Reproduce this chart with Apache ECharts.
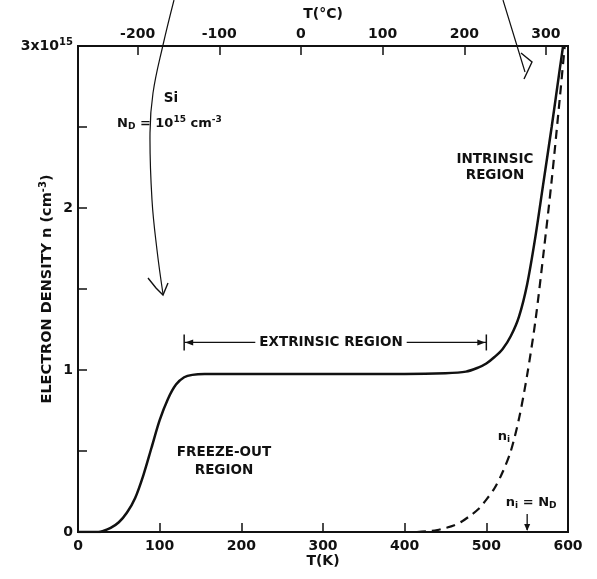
<!DOCTYPE html>
<html><head><meta charset="utf-8">
<script src="https://cdn.jsdelivr.net/npm/echarts@6/dist/echarts.min.js"></script>
<style>html,body{margin:0;padding:0;background:#fff}#c{width:597px;height:579px}</style>
</head><body><div id="c"></div>
<script>
// Electron density n (units of 1e15 cm^-3) vs temperature T (K)
const nTemps  = [0, 25, 30, 40, 50, 60, 70, 80, 90, 100, 110, 120, 130, 140, 155, 200, 300, 400, 450, 475, 490, 500, 510, 520, 530, 540, 550, 560, 570, 580, 590, 594];
const nValues = [0, 0, 0.005, 0.025, 0.06, 0.12, 0.21, 0.35, 0.52, 0.69, 0.82, 0.91, 0.955, 0.97, 0.975, 0.975, 0.975, 0.975, 0.98, 0.99, 1.015, 1.04, 1.08, 1.13, 1.21, 1.33, 1.53, 1.82, 2.16, 2.5, 2.86, 3.0];
// Intrinsic carrier density n_i
const niTemps  = [415, 430, 440, 450, 460, 470, 480, 490, 500, 510, 520, 530, 540, 550, 560, 570, 580, 590, 596];
const niValues = [0, 0.005, 0.012, 0.025, 0.04, 0.065, 0.1, 0.14, 0.2, 0.27, 0.37, 0.5, 0.7, 0.97, 1.3, 1.72, 2.17, 2.68, 3.0];
// Tick labels
const kelvinTicks = [0, 100, 200, 300, 400, 500, 600];
const celsiusTicks = [-200, -100, 0, 100, 200, 300];
const densityTicks = [0, 1, 2, 3];
const crossoverK = 550;           // n_i = N_D
const extrinsicRange = [130, 500]; // K
const extrinsicLevel = 1.17;

const FONT = 'DejaVu Sans';
const W = 'bold';
const INK = '#111';
const chart = echarts.init(document.getElementById('c'), null, {renderer: 'canvas'});

const celsiusInK = celsiusTicks.map(c => c + 273);

const option = {
  backgroundColor: '#fff',
  animation: false,
  grid: {left: 78, right: 29, top: 46, bottom: 47, show: true, borderColor: INK, borderWidth: 2, containLabel: false, outerBoundsMode: 'none'},
  xAxis: [{
    type: 'value', min: 0, max: 600, interval: 100, position: 'bottom',
    name: 'T(K)', nameLocation: 'middle', nameGap: 22, nameMoveOverlap: false,
    nameTextStyle: {fontFamily: FONT, fontWeight: W, fontSize: 14, color: INK},
    axisLine: {show: true, lineStyle: {color: INK, width: 2}},
    axisTick: {show: true, inside: true, length: 9, lineStyle: {color: INK, width: 1.5}},
    axisLabel: {fontFamily: FONT, fontWeight: W, fontSize: 14, color: INK, margin: 7,
      formatter: v => kelvinTicks.includes(v) ? String(v) : ''},
    splitLine: {show: false}
  }, {
    type: 'value', min: 0, max: 600, position: 'top',
    name: 'T(°C)', nameLocation: 'middle', nameGap: 25, nameMoveOverlap: false,
    nameTextStyle: {fontFamily: FONT, fontWeight: W, fontSize: 14, color: INK},
    axisLine: {show: true, lineStyle: {color: INK, width: 2}},
    axisTick: {show: true, inside: true, length: 9, customValues: celsiusInK, lineStyle: {color: INK, width: 1.5}},
    axisLabel: {fontFamily: FONT, fontWeight: W, fontSize: 14, color: INK, margin: 5, customValues: celsiusInK,
      formatter: v => String(Math.round(v - 273))},
    splitLine: {show: false}
  }],
  yAxis: [{
    type: 'value', min: 0, max: 3, interval: 0.5,
    name: '{t|ELECTRON DENSITY n (cm}{s|-3}{t|)}', nameLocation: 'middle', nameRotate: 90, nameGap: 22, nameMoveOverlap: false,
    nameTextStyle: {rich: {t: {fontFamily: FONT, fontWeight: W, fontSize: 14.5, color: INK}, s: {fontFamily: FONT, fontWeight: W, fontSize: 10, color: INK, padding: [0,0,8,0]}}},
    axisLine: {show: true, lineStyle: {color: INK, width: 2}},
    axisTick: {show: true, inside: true, length: 9, lineStyle: {color: INK, width: 1.5}},
    axisLabel: {color: INK, margin: 5,
      formatter: v => {
        if (!densityTicks.includes(v)) return '';
        if (v === 3) return '{a|3x10}{b|15}';
        return '{a|' + v + '}';
      },
      rich: {a: {fontFamily: FONT, fontWeight: W, fontSize: 14, color: INK}, b: {fontFamily: FONT, fontWeight: W, fontSize: 10, color: INK, padding: [0,0,8,0]}}
    },
    splitLine: {show: false}
  }],
  series: [{
    name: 'n', type: 'line', xAxisIndex: 0, yAxisIndex: 0,
    data: nTemps.map((t, i) => [t, nValues[i]]),
    showSymbol: false, smooth: 0.3, clip: true,
    lineStyle: {color: INK, width: 2.5}
  }, {
    name: 'ni', type: 'line', xAxisIndex: 0, yAxisIndex: 0,
    data: niTemps.map((t, i) => [t, niValues[i]]),
    showSymbol: false, smooth: 0.3, clip: true,
    lineStyle: {color: INK, width: 2.2, type: [9, 6]}
  }]
};
chart.setOption(option);

// Annotations
const px = (x, y) => chart.convertToPixel({xAxisIndex: 0, yAxisIndex: 0}, [x, y]);
const a = px(extrinsicRange[0], extrinsicLevel);
const b = px(extrinsicRange[1], extrinsicLevel);
const c0 = px(crossoverK, 0);
const txt = {fontFamily: FONT, fontWeight: W, fill: INK};
const sub = {fontFamily: FONT, fontWeight: W, fontSize: 9, fill: INK, padding: [6, 0, 0, 0]};
const sup = {fontFamily: FONT, fontWeight: W, fontSize: 9, fill: INK, padding: [0, 0, 8, 0]};
const nrm = {fontFamily: FONT, fontWeight: W, fontSize: 13, fill: INK};
const g = [];
// extrinsic bracket
g.push({type: 'line', shape: {x1: a[0], y1: a[1], x2: b[0], y2: b[1]}, style: {stroke: INK, lineWidth: 1.3}});
g.push({type: 'line', shape: {x1: a[0], y1: a[1]-8, x2: a[0], y2: a[1]+8}, style: {stroke: INK, lineWidth: 1.5}});
g.push({type: 'line', shape: {x1: b[0], y1: b[1]-8, x2: b[0], y2: b[1]+8}, style: {stroke: INK, lineWidth: 1.5}});
g.push({type: 'polygon', shape: {points: [[a[0]+1, a[1]], [a[0]+9, a[1]-3], [a[0]+9, a[1]+3]]}, style: {fill: INK}});
g.push({type: 'polygon', shape: {points: [[b[0]-1, b[1]], [b[0]-9, b[1]-3], [b[0]-9, b[1]+3]]}, style: {fill: INK}});
g.push({type: 'text', x: 331, y: a[1], style: Object.assign({text: 'EXTRINSIC REGION', fontSize: 13.5, align: 'center', verticalAlign: 'middle', backgroundColor: '#fff', padding: [0, 4]}, txt)});
// n_i = N_D arrow
g.push({type: 'line', shape: {x1: c0[0], y1: c0[1]-18, x2: c0[0], y2: c0[1]-2}, style: {stroke: INK, lineWidth: 1.3}});
g.push({type: 'polygon', shape: {points: [[c0[0], c0[1]-1], [c0[0]-3, c0[1]-8], [c0[0]+3, c0[1]-8]]}, style: {fill: INK}});
g.push({type: 'text', x: c0[0]+4, y: c0[1]-29, style: {
  text: '{n|n}{s|i}{n| = N}{s|D}', align: 'center', verticalAlign: 'middle', rich: {n: nrm, s: sub}}});
g.push({type: 'text', x: 504, y: 437, style: {
  text: '{n|n}{s|i}', align: 'center', verticalAlign: 'middle', rich: {n: nrm, s: sub}}});
// region labels
g.push({type: 'text', x: 495, y: 167, style: Object.assign({text: 'INTRINSIC\nREGION', fontSize: 13.5, align: 'center', verticalAlign: 'middle', lineHeight: 16}, txt)});
g.push({type: 'text', x: 224, y: 461, style: Object.assign({text: 'FREEZE-OUT\nREGION', fontSize: 13.5, align: 'center', verticalAlign: 'middle', lineHeight: 18}, txt)});
// material label
g.push({type: 'text', x: 171, y: 98, style: Object.assign({text: 'Si', fontSize: 13.5, align: 'center', verticalAlign: 'middle'}, txt)});
g.push({type: 'text', x: 117, y: 124, style: {
  text: '{n|N}{s|D}{n| = 10}{u|15}{n| cm}{u|-3}', align: 'left', verticalAlign: 'middle', rich: {n: nrm, s: sub, u: sup}}});
// hand-drawn pointer arrows on the scan
g.push({type: 'polyline', shape: {points: [[174, 0], [163, 45], [153, 93], [150, 133], [152, 200], [157, 250], [163, 294]], smooth: 0.4}, style: {stroke: INK, lineWidth: 1.2, fill: null}});
g.push({type: 'polyline', shape: {points: [[148, 278], [156, 288], [163, 295], [168, 283]]}, style: {stroke: INK, lineWidth: 1.4, fill: null}});
g.push({type: 'polyline', shape: {points: [[503, 0], [514, 36], [525, 72]]}, style: {stroke: INK, lineWidth: 1.2, fill: null}});
g.push({type: 'polyline', shape: {points: [[521, 53], [532, 62], [524, 79]]}, style: {stroke: INK, lineWidth: 1.4, fill: null}});
chart.setOption({graphic: g});
</script>
</body></html>
